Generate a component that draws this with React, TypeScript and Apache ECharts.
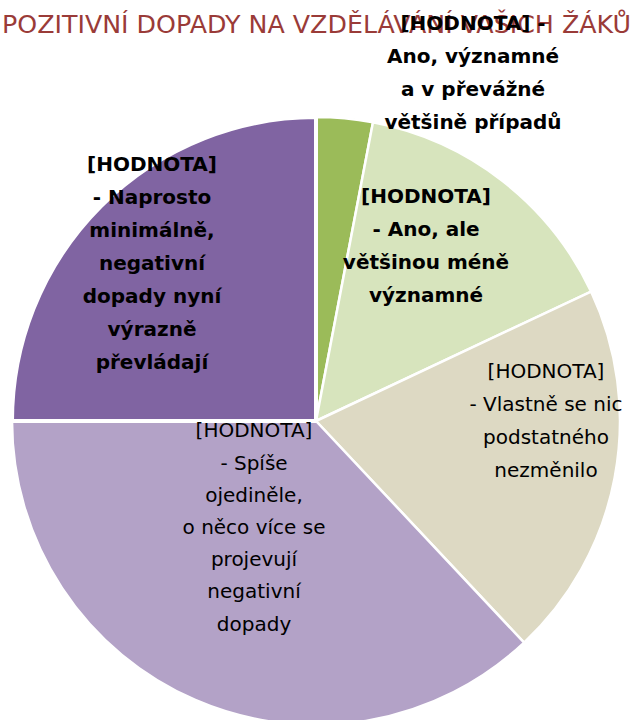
import React, { useEffect, useRef } from "react";
import * as echarts from "echarts";

const titleText = "POZITIVNÍ DOPADY NA VZDĚLÁVÁNÍ VAŠICH ŽÁKŮ";

const categories = [
  "Ano, významné a v převážné většině případů",
  "Ano, ale většinou méně významné",
  "Vlastně se nic podstatného nezměnilo",
  "Spíše ojediněle, o něco více se projevují negativní dopady",
  "Naprosto minimálně, negativní dopady nyní výrazně převládají",
];

const values = [3, 15, 20, 37, 25];

const labelTexts = [
  "[HODNOTA] -\nAno, významné\na v převážné\nvětšině případů",
  "[HODNOTA]\n- Ano, ale\nvětšinou méně\nvýznamné",
  "[HODNOTA]\n- Vlastně se nic\npodstatného\nnezměnilo",
  "[HODNOTA]\n- Spíše\nojediněle,\no něco více se\nprojevují\nnegativní\ndopady",
  "[HODNOTA]\n- Naprosto\nminimálně,\nnegativní\ndopady nyní\nvýrazně\npřevládají",
];

const colors = ["#9bbb59", "#d7e4bd", "#ddd9c3", "#b3a2c7", "#8064a2"];
const boldLabels = [true, true, false, false, true];
const borderWidths = [2.5, 2.5, 2.5, 2.5, 4];
// label block centres (layout only)
const labelPos: [number, number][] = [
  [473, 72],
  [426, 245],
  [546, 420],
  [254, 527],
  [152, 263],
];
const labelLineHeights = [33, 33, 33, 32.2, 33];

export default function App() {
  const ref = useRef<HTMLDivElement>(null);
  useEffect(() => {
    if (!ref.current) return;
    const chart = echarts.init(ref.current, null, { renderer: "svg" });
    chart.setOption({
      animation: false,
      title: {
        text: titleText,
        left: "center",
        top: 12,
        padding: 0,
        textStyle: {
          fontFamily: "DejaVu Sans",
          fontSize: 25.3,
          fontWeight: "normal",
          color: "#9a3b38",
        },
      },
      series: [
        {
          type: "pie",
          center: [316, 421],
          radius: 304,
          startAngle: 90,
          clockwise: true,
          avoidLabelOverlap: false,
          selectedMode: false,
          emphasis: { disabled: true },
          labelLine: { show: false },
          z: 10,
          data: categories.map((name, i) => ({
            name,
            value: values[i],
            itemStyle: {
              color: colors[i],
              borderColor: "#ffffff",
              borderWidth: borderWidths[i],
            },
            label: {
              show: true,
              position: "inside",
              formatter: labelTexts[i],
              fontFamily: "DejaVu Sans",
              fontSize: 20,
              fontWeight: boldLabels[i] ? "bold" : "normal",
              color: "#000000",
              lineHeight: labelLineHeights[i],
              align: "center",
            },
          })),
          labelLayout: (params: any) => {
            const p = labelPos[params.dataIndex];
            return { x: p[0], y: p[1], align: "center", verticalAlign: "middle" };
          },
        },
      ],
    });
    return () => chart.dispose();
  }, []);
  return (
    <div
      ref={ref}
      style={{ position: "absolute", left: 0, top: 0, width: 633, height: 720 }}
    />
  );
}
